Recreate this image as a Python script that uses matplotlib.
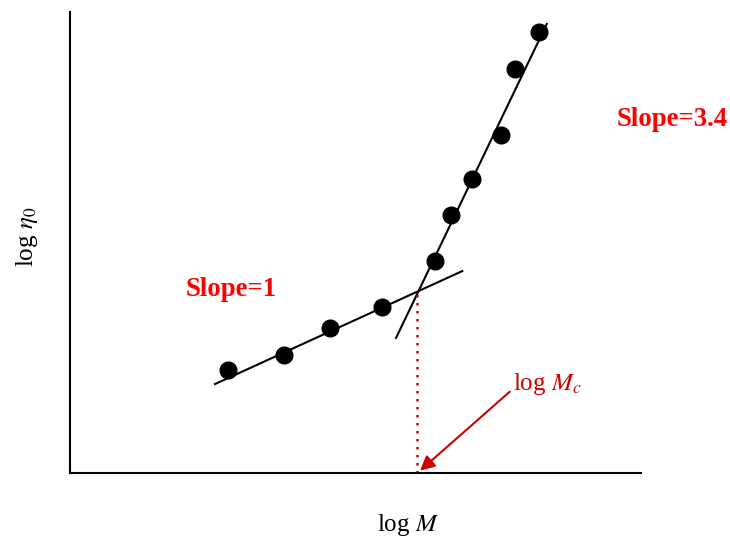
import matplotlib
matplotlib.use("Agg")
import matplotlib.pyplot as plt

# data (arbitrary log units)
log_m = [2.77, 3.75, 4.55, 5.46, 6.39, 6.67, 7.04, 7.55, 7.79, 8.21]
log_eta = [2.23, 2.56, 3.15, 3.60, 4.60, 5.60, 6.38, 7.33, 8.76, 9.57]

# fitted lines (end points in data units)
low_fit_x = [2.54, 6.87]
low_fit_y = [1.93, 4.38]
high_fit_x = [5.71, 8.35]
high_fit_y = [2.93, 9.74]

# critical point
mc_x = 6.08
mc_y = 3.95

plt.rcParams['font.family'] = ['Liberation Serif', 'DejaVu Serif']
plt.rcParams['mathtext.fontset'] = 'stix'

fig = plt.figure(figsize=(7.3, 5.43), dpi=100)
ax = fig.add_axes([70/730, 70/543, 571/730, 461/543])
ax.set_xlim(0, 10)
ax.set_ylim(0, 10)

ax.plot(low_fit_x, low_fit_y, color='black', lw=1.5)
ax.plot(high_fit_x, high_fit_y, color='black', lw=1.5)
ax.plot(log_m, log_eta, 'o', color='black', markersize=12, zorder=3)

# dotted vertical line at Mc
ax.plot([mc_x, mc_x], [0, mc_y], color='#cc0000', lw=1.8, linestyle=(0, (1, 2.2)))

ax.annotate(r'log $M_c$', xy=(6.13, 0.05), xytext=(7.75, 1.93),
            fontsize=18, color='#cc0000', ha='left', va='center',
            arrowprops=dict(arrowstyle='-|>', color='#cc0000', lw=1.5,
                            mutation_scale=22, shrinkA=0, shrinkB=0,
                            relpos=(0.0, 0.3)))

ax.text(2.02, 3.97, 'Slope=1', color='red', fontsize=19.3, fontweight='bold',
        ha='left', va='center')
ax.text(9.58, 7.66, 'Slope=3.4', color='red', fontsize=19.3, fontweight='bold',
        ha='left', va='center', clip_on=False)

ax.spines['top'].set_visible(False)
ax.spines['right'].set_visible(False)
ax.spines['left'].set_linewidth(1.5)
ax.spines['bottom'].set_linewidth(1.5)
ax.set_xticks([])
ax.set_yticks([])

fig.text(408/730, 1 - 525/543, r'log $M$', fontsize=18, ha='center', va='center')
fig.text(27/730, 1 - 237/543, r'log $\eta_0$', fontsize=18, ha='center', va='center',
         rotation=90)

fig.savefig('out.png', dpi=100)
